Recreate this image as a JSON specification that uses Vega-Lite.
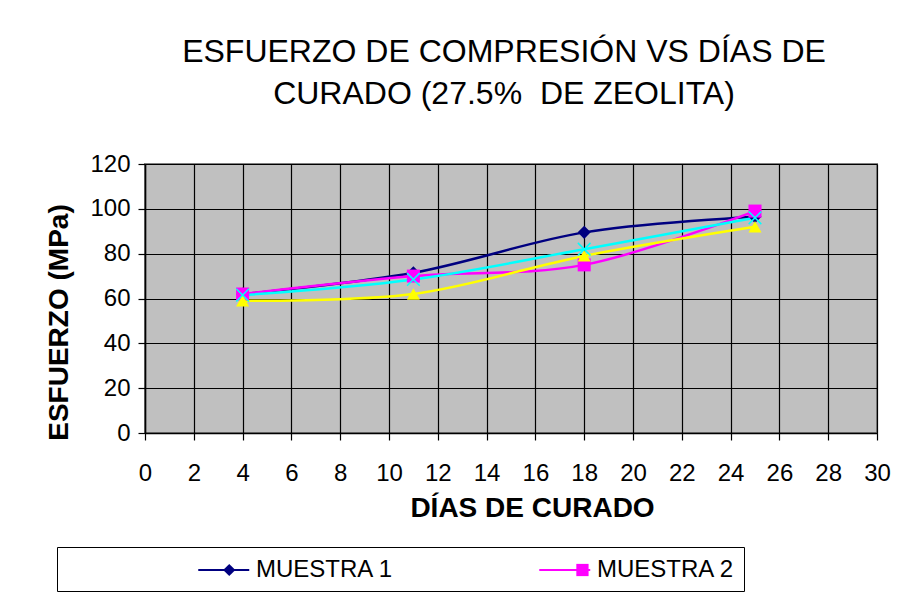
{
  "$schema": "https://vega.github.io/schema/vega-lite/v6.json",
  "width": 732,
  "height": 269,
  "autosize": {"type": "none"},
  "padding": {"left": 145, "top": 164, "right": 34, "bottom": 162},
  "background": "white",
  "title": {
    "text": ["ESFUERZO DE COMPRESIÓN VS DÍAS DE", "CURADO (27.5%\u00a0 DE ZEOLITA)"],
    "font": "Liberation Sans",
    "fontSize": 32,
    "fontWeight": "normal",
    "color": "black",
    "anchor": "middle",
    "dx": -7,
    "lineHeight": 42,
    "offset": 41
  },
  "data": {
    "values": [
      {"serie": "MUESTRA 1", "dias": 4, "esfuerzo": 62},
      {"serie": "MUESTRA 1", "dias": 11, "esfuerzo": 71.5},
      {"serie": "MUESTRA 1", "dias": 18, "esfuerzo": 89.5},
      {"serie": "MUESTRA 1", "dias": 25, "esfuerzo": 96.5},
      {"serie": "MUESTRA 2", "dias": 4, "esfuerzo": 62},
      {"serie": "MUESTRA 2", "dias": 11, "esfuerzo": 70},
      {"serie": "MUESTRA 2", "dias": 18, "esfuerzo": 75},
      {"serie": "MUESTRA 2", "dias": 25, "esfuerzo": 99},
      {"serie": "MUESTRA 3", "dias": 4, "esfuerzo": 59},
      {"serie": "MUESTRA 3", "dias": 11, "esfuerzo": 62},
      {"serie": "MUESTRA 3", "dias": 18, "esfuerzo": 79},
      {"serie": "MUESTRA 3", "dias": 25, "esfuerzo": 92},
      {"serie": "MUESTRA 4", "dias": 4, "esfuerzo": 61.5},
      {"serie": "MUESTRA 4", "dias": 11, "esfuerzo": 68.5},
      {"serie": "MUESTRA 4", "dias": 18, "esfuerzo": 82},
      {"serie": "MUESTRA 4", "dias": 25, "esfuerzo": 96}
    ]
  },
  "encoding": {
    "x": {
      "field": "dias",
      "type": "quantitative",
      "scale": {"domain": [0, 30], "nice": false, "zero": false},
      "axis": {
        "values": [0, 2, 4, 6, 8, 10, 12, 14, 16, 18, 20, 22, 24, 26, 28, 30],
        "title": "DÍAS DE CURADO",
        "titleX": 387,
        "titleY": 75,
        "titleAlign": "center",
        "titleBaseline": "middle",
        "labelPadding": 21
      }
    },
    "y": {
      "field": "esfuerzo",
      "type": "quantitative",
      "scale": {"domain": [0, 120], "nice": false},
      "axis": {
        "values": [0, 20, 40, 60, 80, 100, 120],
        "title": "ESFUERZO (MPa)",
        "titleX": -86,
        "titleY": 158,
        "titleAngle": 270,
        "titleAlign": "center",
        "titleBaseline": "middle",
        "labelPadding": 8
      }
    }
  },
  "layer": [
    {
      "mark": {"type": "line", "interpolate": "cardinal", "strokeWidth": 2.5},
      "encoding": {
        "stroke": {
          "field": "serie",
          "type": "nominal",
          "scale": {"range": ["#000080", "#FF00FF", "#FFFF00", "#00FFFF"]},
          "legend": {
            "orient": "none",
            "legendX": -88,
            "legendY": 383,
            "direction": "horizontal",
            "values": ["MUESTRA 1", "MUESTRA 2"],
            "title": "\u00a0",
            "titleOrient": "left",
            "titleFontSize": 10,
            "titlePadding": 131,
            "strokeColor": "black",
            "fillColor": "white",
            "padding": 9,
            "labelFont": "Liberation Sans",
            "labelFontSize": 24,
            "labelColor": "black",
            "labelLimit": 400,
            "labelExpr": "datum.label == 'MUESTRA 2' ? datum.label + '\u00a0\u00a0\u00a0\u00a0\u00a0\u00a0\u00a0\u00a0\u00a0\u00a0\u00a0\u00a0\u00a0\u00a0\u00a0\u00a0' : datum.label",
            "symbolType": "M-2,0L2,0",
            "symbolSize": 650,
            "symbolOffset": 12.75,
            "symbolStrokeWidth": 2,
            "labelOffset": 18.25,
            "columnPadding": 141
          }
        }
      }
    },
    {
      "mark": {"type": "point", "filled": true, "opacity": 1, "size": 170},
      "encoding": {
        "fill": {
          "field": "serie",
          "type": "nominal",
          "scale": {
            "domain": ["MUESTRA 1", "MUESTRA 2", "MUESTRA 3", "MUESTRA 4"],
            "range": ["#000080", "#FF00FF", "#FFFF00", "#00FFFF"]
          },
          "legend": {
            "orient": "none",
            "legendX": -88,
            "legendY": 385,
            "direction": "horizontal",
            "values": ["MUESTRA 1", "MUESTRA 2"],
            "title": "\u00a0",
            "titleOrient": "left",
            "titleFontSize": 10,
            "titlePadding": 131,
            "padding": 9,
            "labelFont": "Liberation Sans",
            "labelFontSize": 24,
            "labelExpr": "''",
            "labelLimit": 400,
            "symbolSize": 150,
            "symbolOffset": 20.25,
            "symbolStrokeWidth": 0,
            "labelOffset": 25.75,
            "columnPadding": 283.2
          }
        },
        "shape": {
          "field": "serie",
          "type": "nominal",
          "scale": {
            "domain": ["MUESTRA 1", "MUESTRA 2", "MUESTRA 3", "MUESTRA 4"],
            "range": ["diamond", "square", "triangle-up", "M-1,-1L1,1M-1,1L1,-1"]
          },
          "legend": {
            "orient": "none",
            "legendX": -88,
            "legendY": 385,
            "direction": "horizontal",
            "values": ["MUESTRA 1", "MUESTRA 2"],
            "title": "\u00a0",
            "titleOrient": "left",
            "titleFontSize": 10,
            "titlePadding": 131,
            "padding": 9,
            "labelFont": "Liberation Sans",
            "labelFontSize": 24,
            "labelExpr": "''",
            "labelLimit": 400,
            "symbolSize": 150,
            "symbolOffset": 20.25,
            "symbolStrokeWidth": 0,
            "labelOffset": 25.75,
            "columnPadding": 283.2
          }
        }
      }
    },
    {
      "transform": [{"filter": "datum.serie == 'MUESTRA 4'"}],
      "mark": {"type": "point", "shape": "M-1,-1L1,1M-1,1L1,-1", "filled": false, "opacity": 1, "size": 160, "stroke": "#00FFFF", "strokeWidth": 1.5}
    }
  ],
  "config": {
    "view": {"fill": "#C0C0C0", "stroke": "#808080", "strokeWidth": 2},
    "axis": {
      "grid": true,
      "gridColor": "#000000",
      "gridWidth": 1.2,
      "gridOpacity": 1,
      "domainColor": "#000000",
      "domainWidth": 1.5,
      "tickColor": "#000000",
      "tickSize": 7,
      "tickWidth": 1.2,
      "labelFont": "Liberation Sans",
      "labelFontSize": 24,
      "labelColor": "#000000",
      "labelFlush": false,
      "labelOverlap": false,
      "titleFont": "Liberation Sans",
      "titleFontSize": 28,
      "titleFontWeight": "bold",
      "titleColor": "#000000"
    }
  }
}
